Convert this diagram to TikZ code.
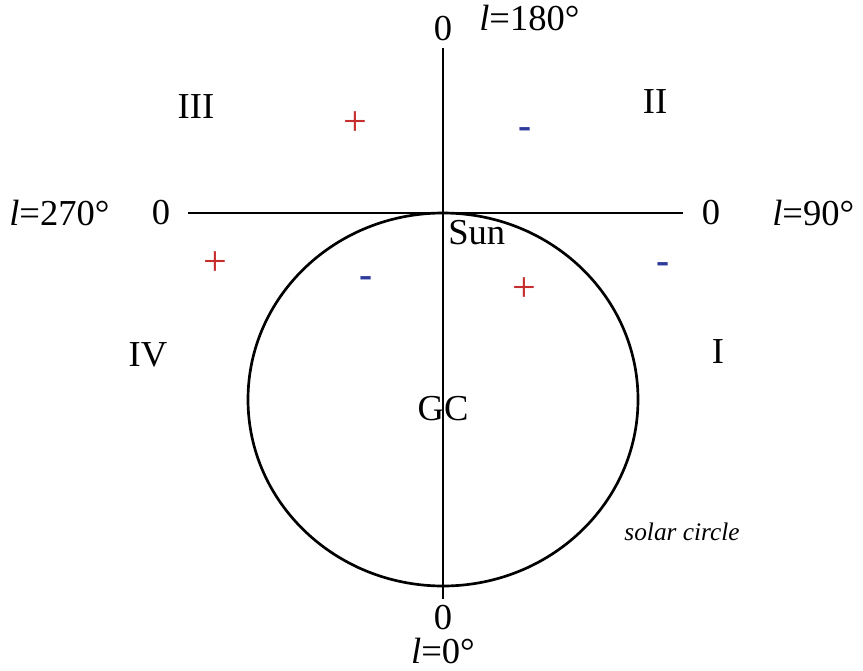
\documentclass[tikz,border=0pt]{standalone}
\usepackage{fontspec}
\setmainfont{Liberation Serif}
\usepackage{xcolor}
\usepackage{tikz}
\definecolor{plusred}{RGB}{200,45,45}
\definecolor{minusblue}{RGB}{45,60,155}

\begin{document}
\begin{tikzpicture}[
    x=0.25mm, y=-0.25mm,
    lbl/.style={font=\fontsize{26}{30}\selectfont, inner sep=0pt},
    sgnplus/.style={font=\fontsize{30}{34}\selectfont, text=plusred, inner sep=0pt},
    sgnminus/.style={font=\fontsize{28}{32}\selectfont\bfseries, text=minusblue, inner sep=0pt},
    axis/.style={draw=black, line width=2.1pt},
    orbit/.style={draw=black, line width=1.9pt}
]
\useasboundingbox (0,0) rectangle (863,671);

% axes
\coordinate (top) at (443,48);
\coordinate (bot) at (443,599);
\coordinate (west) at (188,213);
\coordinate (east) at (683,213);
\coordinate (sun) at (443,213);
\coordinate (gc) at (443,399.5);

\draw[orbit] (gc) ellipse [x radius=195, y radius=186.5];
\draw[axis] (top) -- (bot);
\draw[axis] (west) -- (east);

% longitude labels
\node[lbl] (ztop) at (443,29) {0};
\node[lbl, anchor=west] (l180) at (479,18) {\textit{l}=180°};
\node[lbl] (zleft) at (161,213) {0};
\node[lbl, anchor=west] (l270) at (9,213) {\textit{l}=270°};
\node[lbl] (zright) at (711,213) {0};
\node[lbl, anchor=west] (l90) at (772,213) {\textit{l}=90°};
\node[lbl] (zbot) at (443,618) {0};
\node[lbl] (l0) at (443,651) {\textit{l}=0°};

% quadrants
\node[lbl] (q1) at (718,352) {I};
\node[lbl] (q2) at (655,102) {II};
\node[lbl] (q3) at (196,107) {III};
\node[lbl] (q4) at (148,355) {IV};

% places
\node[lbl, anchor=north west] (sunlbl) at (448,220) {Sun};
\node[lbl] (gclbl) at (443,409) {GC};
\node[font=\fontsize{18}{22}\selectfont\itshape, inner sep=0pt] (solar) at (682,532) {solar circle};

% signs of the radial velocity
\node[sgnplus] (p3) at (355,124) {+};
\node[sgnminus] (m2) at (525,133) {-};
\node[sgnplus] (p4) at (215,264) {+};
\node[sgnminus] (m4) at (366,282) {-};
\node[sgnplus] (p1) at (524,290) {+};
\node[sgnminus] (m1) at (663,268) {-};
\end{tikzpicture}
\end{document}
